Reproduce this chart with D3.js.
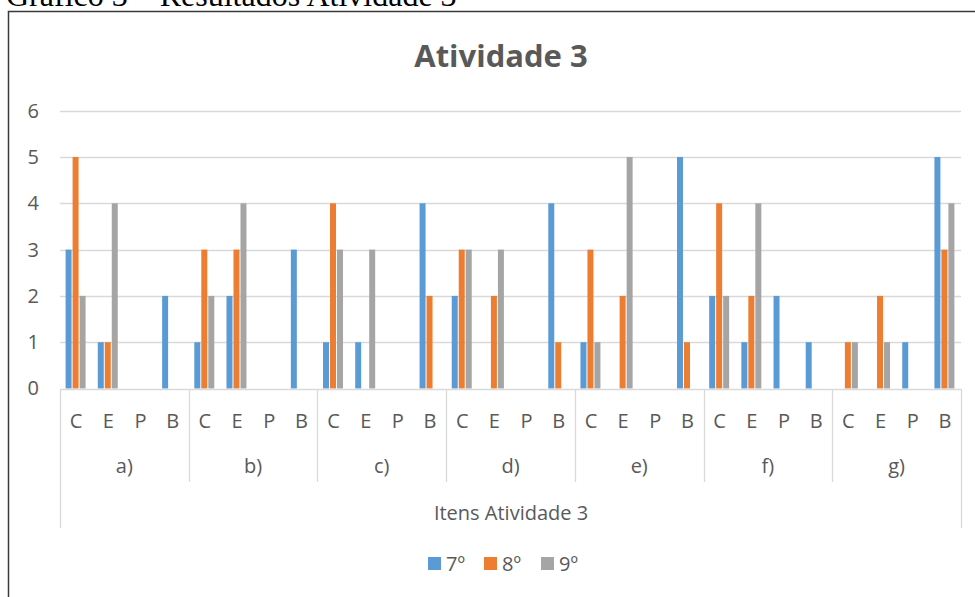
<!DOCTYPE html>
<html><head><meta charset="utf-8">
<script src="https://cdn.jsdelivr.net/npm/d3@7"></script>
<style>
html,body{margin:0;padding:0;background:#fff;overflow:hidden}
svg{display:block}
</style></head>
<body>
<script>
const groups = ["a)", "b)", "c)", "d)", "e)", "f)", "g)"];
const categories = ["C", "E", "P", "B"];
const series = ["7º", "8º", "9º"];
const colors = ["#5B9BD5", "#ED7D31", "#A5A5A5"];
// values per group, per category: [7º, 8º, 9º]
const values7 = [[3,1,0,2],[1,2,0,3],[1,1,0,4],[2,0,0,4],[1,0,0,5],[2,1,2,1],[0,0,1,5]];
const values8 = [[5,1,0,0],[3,3,0,0],[4,0,0,2],[3,2,0,1],[3,2,0,1],[4,2,0,0],[1,2,0,3]];
const values9 = [[2,4,0,0],[2,4,0,0],[3,3,0,0],[3,3,0,0],[1,5,0,0],[2,4,0,0],[1,1,0,4]];
const yTicks = [0,1,2,3,4,5,6];
const chartTitle = "Atividade 3";
const axisTitle = "Itens Atividade 3";
const caption = "Gráfico 3 – Resultados Atividade 3";

const W = 975, H = 597;
const font = "'Open Sans', sans-serif";
const textColor = "#595959";
const gridColor = "#D9D9D9";

const svg = d3.select("body").append("svg").attr("width", W).attr("height", H);

// caption (cut at top, as in the source page)
svg.append("text").attr("x", 6).attr("y", 5.5)
  .attr("font-family", "'Liberation Serif', 'Times New Roman', serif")
  .attr("font-size", 32).attr("fill", "#000").text(caption);

// frame
svg.append("rect").attr("x", 8.5).attr("y", 11.5).attr("width", 1000).attr("height", 700)
  .attr("fill", "none").attr("stroke", "#3a3a3a").attr("stroke-width", 1.5);

// title
svg.append("text").attr("x", 501).attr("y", 67).attr("text-anchor", "middle")
  .attr("font-family", font).attr("font-weight", "bold").attr("font-size", 31)
  .attr("fill", textColor).text(chartTitle);

const x0 = 60, x1 = 961;
const y = d3.scaleLinear().domain([0, 6]).range([388.5, 110.7]);
const xg = d3.scaleBand().domain(groups).range([x0, x1]);
const xc = d3.scaleBand().domain(categories).range([0, xg.bandwidth()]);
const xs = d3.scaleBand().domain(series).range([0, xc.bandwidth()]).paddingOuter(0.8);

// gridlines
svg.append("g").selectAll("line").data(yTicks.filter(d => d > 0)).join("line")
  .attr("x1", x0).attr("x2", x1).attr("y1", d => Math.round(y(d)) + 0.5).attr("y2", d => Math.round(y(d)) + 0.5)
  .attr("stroke", gridColor).attr("stroke-width", 1.3);

// y labels
const yAxis = d3.axisLeft(y).tickValues(yTicks).tickSize(0).tickPadding(0).tickFormat(d3.format("d"));
const ya = svg.append("g").attr("transform", "translate(39,0)").call(yAxis);
ya.select(".domain").remove();
ya.selectAll("text").attr("font-family", font).attr("font-size", 20).attr("fill", textColor);

// bars
const seriesVals = [values7, values8, values9];
const barData = [];
groups.forEach((g, gi) => categories.forEach((c, ci) => series.forEach((s, si) => {
  barData.push({g, c, s, si, v: seriesVals[si][gi][ci]});
})));
svg.append("g").selectAll("rect").data(barData.filter(d => d.v > 0)).join("rect")
  .attr("x", d => xg(d.g) + xc(d.c) + xs(d.s))
  .attr("width", xs.bandwidth() - 1)
  .attr("y", d => y(d.v))
  .attr("height", d => y(0) - y(d.v))
  .attr("fill", d => colors[d.si]);

// x axis line
svg.append("line").attr("x1", x0).attr("x2", x1).attr("y1", 389.5).attr("y2", 389.5)
  .attr("stroke", gridColor).attr("stroke-width", 1.3);

// group separators
const seps = groups.map(g => xg(g)).concat([x1]);
svg.append("g").selectAll("line").data(seps).join("line")
  .attr("x1", d => Math.round(d) + 0.5).attr("x2", d => Math.round(d) + 0.5)
  .attr("y1", 389).attr("y2", (d, i) => (i === 0 || i === seps.length - 1) ? 528 : 482)
  .attr("stroke", gridColor).attr("stroke-width", 1.3);

// category labels
const catLabels = [];
groups.forEach(g => categories.forEach(c => catLabels.push({g, c})));
svg.append("g").selectAll("text").data(catLabels).join("text")
  .attr("x", d => xg(d.g) + xc(d.c) + xc.bandwidth() / 2)
  .attr("y", 427.5).attr("text-anchor", "middle")
  .attr("font-family", font).attr("font-size", 20).attr("fill", textColor)
  .text(d => d.c);

// group labels
svg.append("g").selectAll("text").data(groups).join("text")
  .attr("x", d => xg(d) + xg.bandwidth() / 2)
  .attr("y", 473).attr("text-anchor", "middle")
  .attr("font-family", font).attr("font-size", 20).attr("fill", textColor)
  .text(d => d);

// axis title
svg.append("text").attr("x", 511).attr("y", 519.5).attr("text-anchor", "middle")
  .attr("font-family", font).attr("font-size", 20).attr("fill", textColor).text(axisTitle);

// legend
const legendX = [428, 484, 541];
const lg = svg.append("g").selectAll("g").data(series).join("g")
  .attr("transform", (d, i) => `translate(${legendX[i]},557)`);
lg.append("rect").attr("width", 13).attr("height", 13).attr("fill", (d, i) => colors[i]);
lg.append("text").attr("x", 18).attr("y", 13.5)
  .attr("font-family", font).attr("font-size", 20).attr("fill", textColor).text(d => d);
</script>
</body></html>
